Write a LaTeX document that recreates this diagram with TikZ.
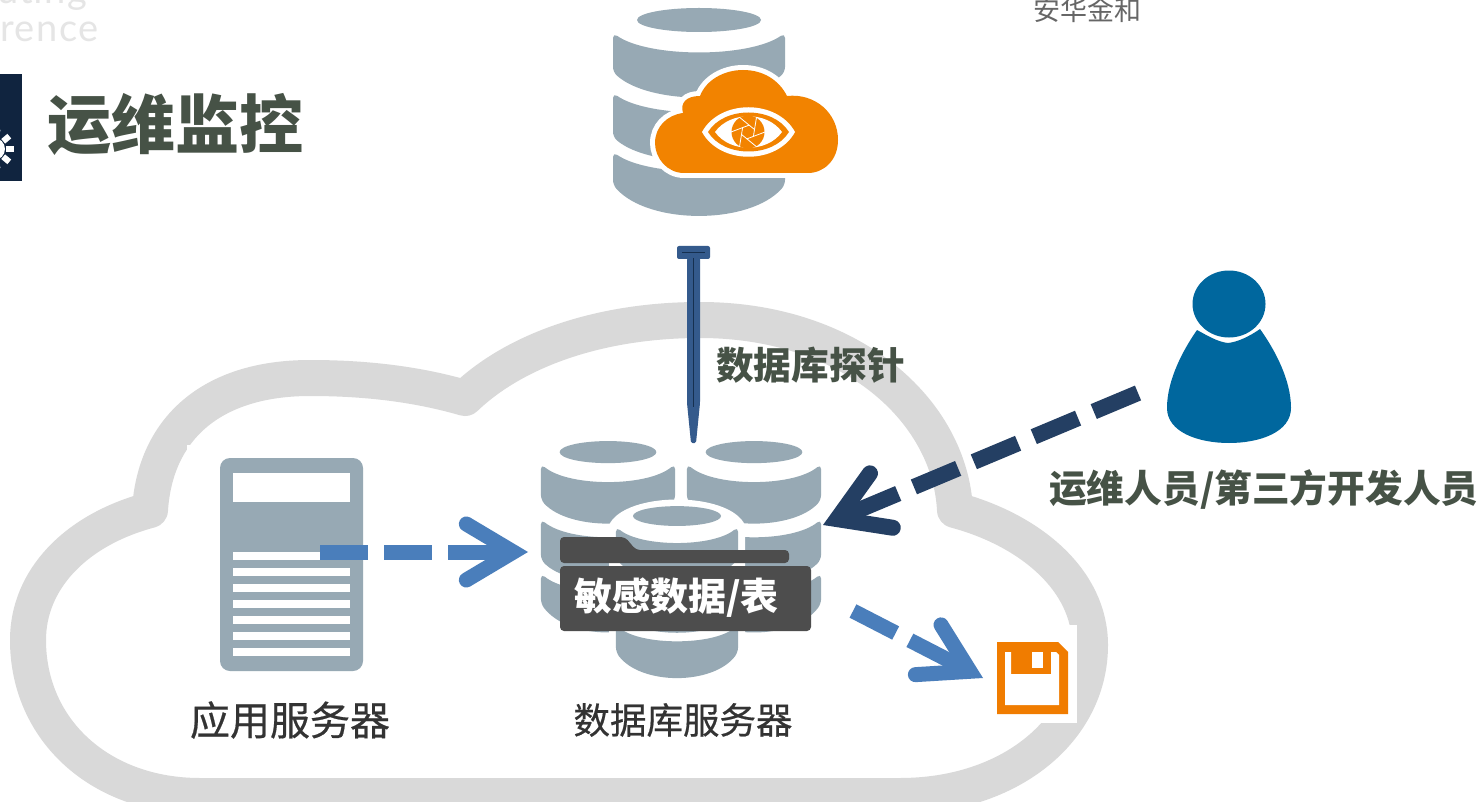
\documentclass[tikz,border=0pt]{standalone}
\usepackage{fontspec}
\newfontfamily\cjk{Noto Sans CJK SC}
\newfontfamily\cjkmid[FakeBold=0.5]{Noto Sans CJK SC}
\setsansfont{Lato}
\usetikzlibrary{arrows.meta}
\definecolor{dbgray}{HTML}{97A9B4}
\definecolor{cloudgray}{HTML}{D9D9D9}
\definecolor{titlegreen}{HTML}{465246}
\definecolor{navy}{HTML}{10243F}
\definecolor{probeblue}{HTML}{345A8C}
\definecolor{probedark}{HTML}{16304F}
\definecolor{flowblue}{HTML}{4A7EBB}
\definecolor{opsnavy}{HTML}{243F63}
\definecolor{iconorange}{HTML}{F28300}
\definecolor{saveorange}{HTML}{F07C00}
\definecolor{personblue}{HTML}{00679E}
\definecolor{folderdark}{HTML}{4D4D4D}
\tikzset{
    heading/.style={inner sep=0pt,text=titlegreen,font=\cjk\bfseries\fontsize{64}{70}\selectfont},
    boldlabel/.style={inner sep=0pt,text=titlegreen,font=\cjk\bfseries\fontsize{37.7}{44}\selectfont},
    iconlabel/.style={inner sep=0pt,text=black!80,font=\cjkmid\fontsize{40}{46}\selectfont},
    ghost/.style={inner sep=0pt,anchor=base west,text=black!10,font=\sffamily\fontsize{38}{44}\selectfont},
    flowshaft/.style={line width=15pt,flowblue,shorten >=16pt,dash pattern=on 48pt off 16pt on 48pt off 16pt on 90pt off 400pt},
    flowhead/.style={line width=15pt,flowblue,dash pattern=on 0pt off 2000pt,
        -{Straight Barb[length=47pt,width=56pt,line width=15pt,line cap=round,line join=miter]}},
    savearrowshaft/.style={flowshaft,dash pattern=on 48pt off 16pt on 90pt off 400pt},
    opsshaft/.style={line width=16pt,opsnavy,shorten >=18pt,dash pattern=on 48pt off 17pt on 48pt off 17pt on 48pt off 17pt on 48pt off 17pt on 90pt off 400pt},
    opshead/.style={line width=16pt,opsnavy,dash pattern=on 0pt off 2000pt,
        -{Straight Barb[length=48pt,width=59pt,line width=16pt,line cap=round,line join=miter]}},
    % one database drum around (0,0), 172 wide and 195 high
    pics/dbdrum/.style={code={
        \fill[dbgray] (0,-95) ellipse [x radius=62,y radius=12];
        \fill[dbgray,rounded corners=5pt] (-86,-82) .. controls (-50,-57) and (50,-57) .. (86,-82)
            -- (86,-43) .. controls (50,-10) and (-50,-10) .. (-86,-43) -- cycle;
        \fill[dbgray,rounded corners=5pt] (-86,-22) .. controls (-50,3) and (50,3) .. (86,-22)
            -- (86,22) .. controls (50,53) and (-50,53) .. (-86,22) -- cycle;
        \fill[dbgray,rounded corners=5pt] (-86,37) .. controls (-50,62) and (50,62) .. (86,37)
            -- (86,70) .. controls (50,110) and (-50,110) .. (-86,70) -- cycle;
    }},
}
\begin{document}
\begin{tikzpicture}[x=1pt,y=-1pt]
    \useasboundingbox (0,0) rectangle (1482,802);
    \clip (0,0) rectangle (1482,802);
    \fill[white] (0,0) rectangle (1482,802);

    % faded header bits
    \node[ghost] (ghosta) at (-3,4) {\addfontfeature{LetterSpace=4}uting};
    \node[ghost] (ghostb) at (0,42) {\addfontfeature{LetterSpace=4}rence};
    \node[inner sep=0pt,anchor=west,text=black!60,font=\cjk\fontsize{27}{30}\selectfont] (brand) at (1033,10) {安华金和};

    % title
    \fill[navy] (0,74) rectangle (22,181);
    \fill[white] (-6,149) circle (11);
    \foreach \a in {-80,-40,...,80}
        \fill[white,rotate around={\a:(-6,149)}] (6,146) rectangle (14,152);
    \node[heading,anchor=west] (title) at (47,124) {运维监控};

    % cloud
    \draw[cloudgray,line width=36pt,line join=round] (150,510)
        .. controls (75,530) and (28,580) .. (28,640)
        .. controls (28,730) and (100,796) .. (200,796) -- (900,796)
        .. controls (1010,796) and (1090,730) .. (1090,645)
        .. controls (1090,580) and (1030,530) .. (955,510)
        .. controls (950,410) and (850,320) .. (700,320)
        .. controls (600,320) and (515,350) .. (465,398)
        .. controls (420,385) and (370,378) .. (310,378)
        .. controls (210,378) and (155,430) .. (150,510) -- cycle;
    \fill[white] (187,445) rectangle (400,700);
    \fill[white] (995,625) rectangle (1077,723);

    % application server
    \fill[dbgray,rounded corners=10pt] (220,458) rectangle (363,671);
    \fill[white] (233,473) rectangle (350,502);
    \foreach \y in {552,568,...,648}
        \fill[white] (233,\y) rectangle (350,\y+8);
    \node[iconlabel] (applabel) at (290,720) {应用服务器};
    \coordinate (appout) at (320,552);

    % database servers
    \pic at (608,539.5) [xscale=.78,yscale=.92] {dbdrum};
    \pic at (754,539.5) [xscale=.78,yscale=.92] {dbdrum};
    \fill[white] (609,525) .. controls (625,491) and (729,491) .. (745,525) -- (745,640) -- (609,640) -- cycle;
    \pic at (677,594.5) [xscale=.71,yscale=.826] {dbdrum};
    \node[iconlabel,font=\cjkmid\fontsize{36.5}{44}\selectfont] (dblabel) at (683,720) {数据库服务器};
    \coordinate (dbin) at (528,552);
    \coordinate (dbops) at (823,525);
    \coordinate (dbout) at (853,611);

    % folder
    \fill[folderdark,rounded corners=4pt] (560,563) -- (560,537) -- (625,537) -- (636,550) -- (789,550) -- (789,563) -- cycle;
    \fill[folderdark,rounded corners=4pt] (560,566) -- (560,631) -- (811,631) -- (811,566) -- cycle;
    \node[inner sep=0pt,anchor=west,text=white,font=\cjk\bfseries\fontsize{38}{44}\selectfont] (sensitive) at (574,598) {敏感数据/表};

    % save icon
    \fill[saveorange] (997,642) -- (1058,642) -- (1068,652) -- (1068,714) -- (997,714) -- cycle;
    \fill[white] (1005,652) -- (1011,652) -- (1011,674) -- (1051,674) -- (1051,652) -- (1056,652) -- (1059,655) -- (1059,705) -- (1005,705) -- cycle;
    \fill[white] (1032,652) rectangle (1043,668);
    \coordinate (saveicon) at (983,678);

    % monitor icon
    \pic at (699,115) {dbdrum};
    \fill[iconorange,preaction={draw=white,line width=10pt}] (684,173)
        .. controls (667,173) and (655,158) .. (655,143)
        .. controls (655,127) and (667,115) .. (683,113)
        .. controls (680,103) and (686,96) .. (700,96)
        .. controls (706,80) and (724,70) .. (743,70)
        .. controls (763,70) and (779,80) .. (787,96)
        .. controls (815,93) and (838,113) .. (838,140)
        .. controls (838,160) and (824,173) .. (808,173) -- cycle;
    \fill[white] (702,132) .. controls (720,99) and (777,99) .. (795,132)
        .. controls (777,165) and (720,165) .. (702,132) -- cycle;
    \fill[iconorange] (708,132) .. controls (724,106) and (773,106) .. (789,132)
        .. controls (773,158) and (724,158) .. (708,132) -- cycle;
    \fill[white] (715,132) .. controls (730,111) and (767,111) .. (782,132)
        .. controls (767,153) and (730,153) .. (715,132) -- cycle;
    \fill[iconorange] (748,132) circle (16.5);
    \foreach \a in {0,60,...,300}
        \draw[white,line width=.8pt] ([shift={(\a:17)}]748,132) -- ([shift={(\a+100:7)}]748,132);

    % probe
    \coordinate (probetop) at (693.5,258);
    \fill[probeblue,rounded corners=2pt] (677,246) rectangle (710,259);
    \draw[probedark,line width=1.5pt] (682,252.5) -- (705,252.5);
    \fill[probeblue,rounded corners=1.5pt] (687,258) -- (700,258) -- (700,403) -- (696,443) -- (691,443) -- (687,403) -- cycle;
    \draw[probedark,line width=1.8pt] (probetop) -- (693.5,407);
    \node[boldlabel,anchor=west] (probelabel) at (716,365) {数据库探针};

    % operator
    \fill[personblue] (1229,304) ellipse [x radius=36.5,y radius=33.5];
    \fill[personblue] (1197,330) .. controls (1208,336) and (1218,342) .. (1228,343)
        .. controls (1238,342) and (1250,336) .. (1260,329)
        .. controls (1275,350) and (1291,380) .. (1291,408)
        .. controls (1291,432) and (1260,443) .. (1229,443)
        .. controls (1198,443) and (1167,432) .. (1167,408)
        .. controls (1167,380) and (1183,350) .. (1197,330) -- cycle;
    \node[boldlabel,anchor=west] (opslabel) at (1049,490) {运维人员/第三方开发人员};
    \coordinate (opsout) at (1138,393);

    % arrows
    \draw[flowshaft] (appout) -- (dbin);
    \draw[flowhead] (appout) -- (dbin);
    \draw[savearrowshaft] (dbout) -- (saveicon);
    \draw[flowhead] (dbout) -- (saveicon);
    \draw[opsshaft] (opsout) -- (dbops);
    \draw[opshead] (opsout) -- (dbops);
\end{tikzpicture}
\end{document}
